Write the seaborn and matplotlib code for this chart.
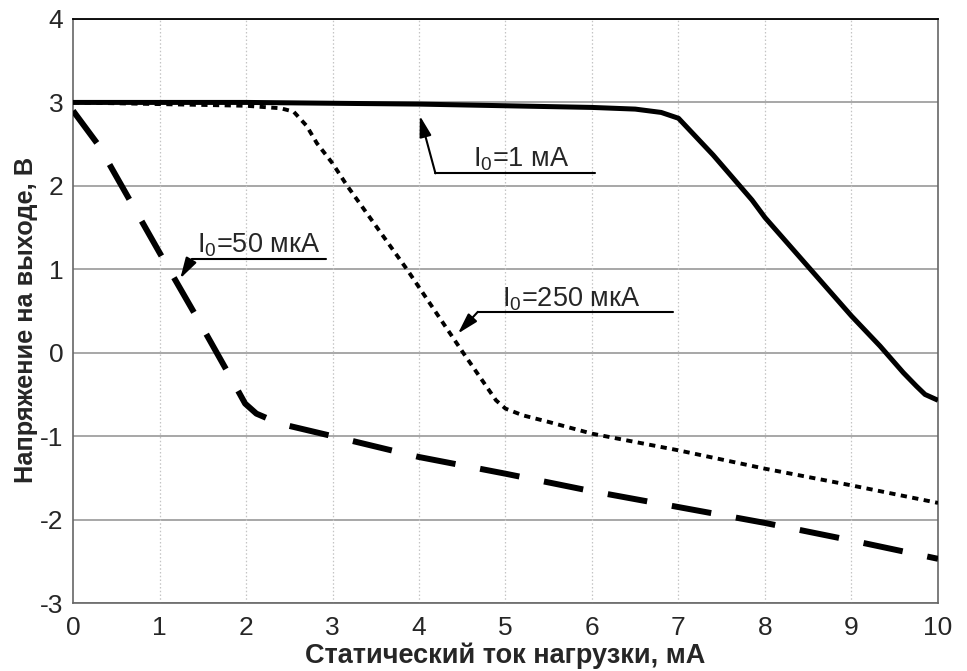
import matplotlib
matplotlib.use("Agg")
import matplotlib.pyplot as plt
import seaborn as sns
import pandas as pd

# ---- data ----
x_1ma = [0, 1, 2, 3, 4, 5, 6, 6.5, 6.8, 7.0, 7.4, 7.85, 8, 9, 9.33, 9.6, 9.75, 9.85, 10]
y_1ma = [3.0, 3.0, 3.0, 2.99, 2.98, 2.96, 2.94, 2.92, 2.88, 2.81, 2.37, 1.83, 1.62, 0.44, 0.08, -0.24, -0.4, -0.5, -0.57]

x_250 = [0, 1, 2, 2.4, 2.55, 2.7, 2.82, 3.0, 3.17, 3.86, 4.51, 4.89, 5.0, 5.2, 5.5, 6, 7, 8, 9, 10]
y_250 = [3.0, 2.98, 2.96, 2.93, 2.89, 2.72, 2.51, 2.27, 2.0, 1.0, 0.0, -0.57, -0.67, -0.75, -0.83, -0.97, -1.17, -1.39, -1.59, -1.80]

x_50 = [0, 0.3, 1.0, 1.45, 1.83, 1.99, 2.12, 2.39, 3.0, 4, 5, 6, 7, 8, 9, 10]
y_50 = [2.9, 2.48, 1.2, 0.39, -0.31, -0.61, -0.73, -0.85, -1.0, -1.25, -1.45, -1.66, -1.85, -2.04, -2.25, -2.47]

x_ticks = list(range(0, 11))
y_ticks = list(range(-3, 5))
x_label = "Статический ток нагрузки, мА"
y_label = "Напряжение на выходе, В"

labels = ["I$_{\\mathrm{0}}$=1 мА", "I$_{\\mathrm{0}}$=250 мкА", "I$_{\\mathrm{0}}$=50 мкА"]
# text anchor, elbow, underline end, arrow tip
text_pos = [(4.62, 2.23), (4.96, 0.55), (1.43, 1.20)]
elbow_pos = [(4.19, 2.15), (4.68, 0.49), (1.37, 1.12)]
line_end = [(6.04, 2.15), (6.94, 0.49), (2.93, 1.12)]
tip_pos = [(4.01, 2.84), (4.45, 0.23), (1.24, 0.89)]

sns.set_style("white")
plt.rcParams['font.family'] = ['Liberation Sans', 'DejaVu Sans']
plt.rcParams['mathtext.fontset'] = 'custom'
plt.rcParams['mathtext.rm'] = 'Liberation Sans'
plt.rcParams['mathtext.it'] = 'Liberation Sans'

fig = plt.figure(figsize=(9.67, 6.71), dpi=100)
ax = fig.add_axes([0.0755, 0.1013, 0.8945, 0.8704])

df1 = pd.DataFrame({"x": x_1ma, "y": y_1ma})
df2 = pd.DataFrame({"x": x_250, "y": y_250})
df3 = pd.DataFrame({"x": x_50, "y": y_50})

sns.lineplot(data=df1, x="x", y="y", ax=ax, color="black", lw=3.6,
             solid_capstyle="butt", zorder=5)
sns.lineplot(data=df2, x="x", y="y", ax=ax, color="black", lw=2.8,
             linestyle=(0, (1.6, 1.4)), zorder=5)
sns.lineplot(data=df3, x="x", y="y", ax=ax, color="black", lw=4.3,
             linestyle=(0, (6.7, 4.2)), zorder=5)

ax.set_xlim(0, 10)
ax.set_ylim(-3, 4)
ax.set_xticks(x_ticks)
ax.set_yticks(y_ticks)
ax.set_xticklabels([str(v) for v in x_ticks])
ax.set_yticklabels([str(v) for v in y_ticks])
ax.tick_params(axis='both', labelsize=19, direction='out', length=5,
               width=1, color='#555555')
ax.tick_params(axis='x', pad=4)
ax.tick_params(axis='y', pad=2)

ax.set_xlabel(x_label, fontsize=19.5, fontweight='bold', labelpad=2)
ax.set_ylabel(y_label, fontsize=18.3, fontweight='bold')
ax.yaxis.set_label_coords(-0.041, 0.485)

# grid
for yv in y_ticks:
    ax.axhline(yv, color='#a0a0a0', lw=1.3, zorder=1)
for xv in x_ticks[1:-1]:
    ax.axvline(xv, color='#c4c4c4', lw=0.9, ls=(0, (1.2, 1.8)), zorder=1)

for side in ['left', 'bottom', 'right']:
    ax.spines[side].set_color('#666666')
    ax.spines[side].set_linewidth(1.2)
ax.spines['top'].set_color('black')
ax.spines['top'].set_linewidth(1.3)

for lab, tp, ep, le, tip in zip(labels, text_pos, elbow_pos, line_end, tip_pos):
    ax.text(tp[0], tp[1], lab, fontsize=19.5, ha='left', va='baseline', zorder=6)
    ax.plot([ep[0], le[0]], [ep[1], le[1]], color='black', lw=1.5, zorder=6)
    ax.annotate("", xy=tip, xytext=ep,
                arrowprops=dict(arrowstyle='-|>,head_length=0.7,head_width=0.2',
                                color='black', lw=1.5, shrinkA=0, shrinkB=0,
                                mutation_scale=18), zorder=6)

fig.savefig("out.png", dpi=100)
